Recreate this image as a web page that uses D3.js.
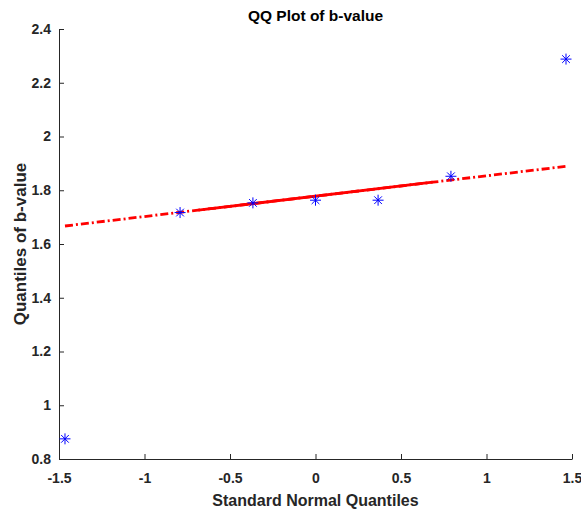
<!DOCTYPE html>
<html>
<head>
<meta charset="utf-8">
<script src="https://cdn.jsdelivr.net/npm/d3@7"></script>
<style>
  body { margin: 0; background: #fff; }
  text { font-family: "Liberation Sans", Arial, Helvetica, sans-serif; font-weight: bold; fill: #262626; }
</style>
</head>
<body>
<div id="chart"></div>
<script>
// standard normal quantiles (x) and sorted b-value quantiles (y)
const normQ = [-1.465, -0.792, -0.366, 0, 0.366, 0.792, 1.465];
const bValue = [0.875, 1.717, 1.753, 1.763, 1.763, 1.852, 2.288];

// reference line: solid between quartiles, dash-dot out to the data range
const fitQX = [-0.685, 0.685];
const fitQY = [1.726, 1.830];
const fitEndX = [-1.465, 1.465];
const fitEndY = [1.667, 1.889];

const xTicks = [-1.5, -1, -0.5, 0, 0.5, 1, 1.5];
const yTicks = [0.8, 1, 1.2, 1.4, 1.6, 1.8, 2, 2.2, 2.4];

const W = 581, H = 513;
const MARGIN = { LEFT: 59, RIGHT: 9, TOP: 29, BOTTOM: 54 };
const WIDTH = W - MARGIN.LEFT - MARGIN.RIGHT;
const HEIGHT = H - MARGIN.TOP - MARGIN.BOTTOM;

const svg = d3.select("#chart").append("svg")
    .attr("width", W)
    .attr("height", H);

const g = svg.append("g")
    .attr("transform", `translate(${MARGIN.LEFT}, ${MARGIN.TOP})`);

const x = d3.scaleLinear().domain([-1.5, 1.5]).range([0, WIDTH]);
const y = d3.scaleLinear().domain([0.8, 2.4]).range([HEIGHT, 0]);

const fmt = d => String(d);

const xAxis = d3.axisBottom(x).tickValues(xTicks).tickFormat(fmt)
    .tickSize(-5).tickSizeOuter(0).tickPadding(14);
const yAxis = d3.axisLeft(y).tickValues(yTicks).tickFormat(fmt)
    .tickSize(-5).tickSizeOuter(0).tickPadding(8);

const gx = g.append("g")
    .attr("transform", `translate(0, ${HEIGHT})`)
    .call(xAxis);
const gy = g.append("g").call(yAxis);

[gx, gy].forEach(a => {
    a.select(".domain").attr("stroke", "#262626").attr("stroke-width", 1);
    a.selectAll(".tick line").attr("stroke", "#262626");
    a.selectAll(".tick text")
        .style("font-size", "14px")
        .attr("fill", "#262626");
});
gx.selectAll(".tick text").attr("dy", "0.71em");

// reference line
const line = d3.line().x(d => x(d[0])).y(d => y(d[1]));

g.append("path")
    .datum([[fitEndX[0], fitEndY[0]], [fitEndX[1], fitEndY[1]]])
    .attr("d", line)
    .attr("fill", "none")
    .attr("stroke", "#ff0000")
    .attr("stroke-width", 2.8)
    .attr("stroke-dasharray", "8,3,2,3");

g.append("path")
    .datum([[fitQX[0], fitQY[0]], [fitQX[1], fitQY[1]]])
    .attr("d", line)
    .attr("fill", "none")
    .attr("stroke", "#ff0000")
    .attr("stroke-width", 2.8);

// asterisk markers
const r = 5.5;
const pts = normQ.map((q, i) => [q, bValue[i]]);
const star = g.selectAll(".pt")
    .data(pts)
    .enter().append("g")
    .attr("class", "pt")
    .attr("transform", d => `translate(${x(d[0])}, ${y(d[1])})`);

const arms = [[-r, 0, r, 0], [0, -r, 0, r], [-r * 0.7, -r * 0.7, r * 0.7, r * 0.7], [-r * 0.7, r * 0.7, r * 0.7, -r * 0.7]];
arms.forEach(a => {
    star.append("line")
        .attr("x1", a[0]).attr("y1", a[1])
        .attr("x2", a[2]).attr("y2", a[3])
        .attr("stroke", "#0000ff")
        .attr("stroke-width", 1);
});

// labels
svg.append("text")
    .attr("x", MARGIN.LEFT + WIDTH / 2)
    .attr("y", 21)
    .attr("text-anchor", "middle")
    .style("font-size", "15.5px")
    .style("fill", "#000")
    .text("QQ Plot of b-value");

svg.append("text")
    .attr("x", MARGIN.LEFT + WIDTH / 2)
    .attr("y", 506)
    .attr("text-anchor", "middle")
    .style("font-size", "16px")
    .text("Standard Normal Quantiles");

svg.append("text")
    .attr("transform", `translate(26, ${MARGIN.TOP + HEIGHT / 2}) rotate(-90)`)
    .attr("text-anchor", "middle")
    .style("font-size", "17px")
    .text("Quantiles of b-value");
</script>
</body>
</html>
